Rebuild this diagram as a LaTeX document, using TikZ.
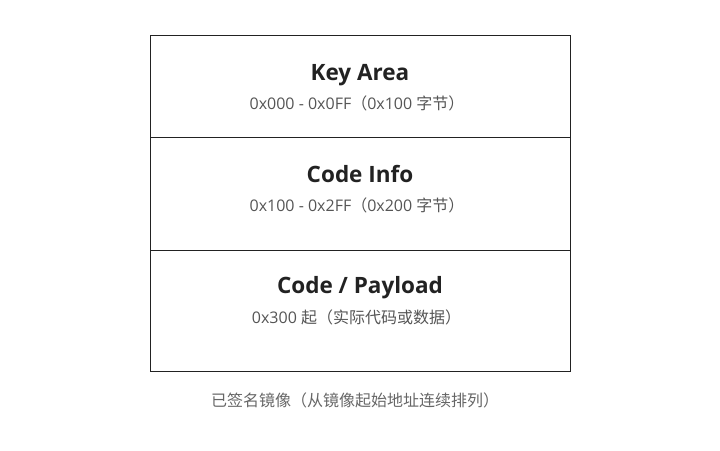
\documentclass[tikz,border=0pt]{standalone}
\usepackage{fontspec}
\setmainfont{Open Sans}
\newfontfamily\cjk{Noto Sans CJK SC}
\usetikzlibrary{positioning}
\definecolor{framegray}{HTML}{222222}
\definecolor{rangegray}{HTML}{555555}
\definecolor{notegray}{HTML}{666666}
\tikzset{
  region/.style={draw=framegray, line width=1pt, minimum width=420pt, inner sep=0pt, anchor=north west},
  regionname/.style={font=\fontsize{22.5}{26}\selectfont\bfseries, text=framegray, anchor=base},
  regionrange/.style={font=\fontsize{16}{19}\selectfont, text=rangegray, anchor=base},
}
\begin{document}
\begin{tikzpicture}[x=1pt, y=-1pt]
		%%%%% START %%%%%
		\useasboundingbox (0, 0) rectangle (720, 450);
		
		\node[region, minimum height=102pt] (key) at (150, 35) {};
		\node[region, minimum height=112.5pt] (info) at (150, 137) {};
		\node[region, minimum height=121.5pt] (payload) at (150, 249.5) {};
		
		\node[regionname] (keyname) at (360, 80) {Key Area};
		\node[regionrange] (keyrange) at (357, 109.5) {0x000 - 0x0FF{\cjk （}0x100 {\cjk 字节）}};
		
		\node[regionname] (infoname) at (360, 182) {Code Info};
		\node[regionrange] (inforange) at (357, 211) {0x100 - 0x2FF{\cjk （}0x200 {\cjk 字节）}};
		
		\node[regionname] (payloadname) at (360, 293.5) {Code / Payload};
		\node[regionrange] (payloadrange) at (356.5, 323.5) {0x300 {\cjk 起（实际代码或数据）}};
		
		\node[font=\fontsize{16}{19}\selectfont\cjk, text=notegray, anchor=base] (note) at (355, 406.5) {已签名镜像（从镜像起始地址连续排列）};
		%%%%% END %%%%%
	\end{tikzpicture}
\end{document}
